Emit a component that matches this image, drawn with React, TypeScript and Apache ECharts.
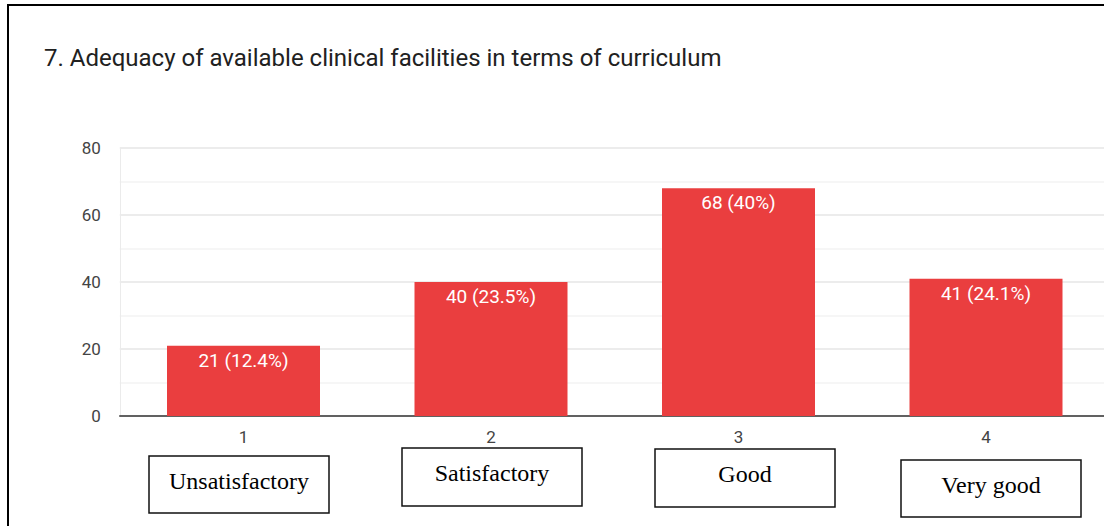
import React, { useEffect, useRef } from "react";
import * as echarts from "echarts";

const titleText = "7. Adequacy of available clinical facilities in terms of curriculum";
const categories = ["1", "2", "3", "4"];
const counts = [21, 40, 68, 41];
const percents = ["12.4%", "23.5%", "40%", "24.1%"];
const ratingNames = ["Unsatisfactory", "Satisfactory", "Good", "Very good"];
const yTicks = [0, 20, 40, 60, 80];

// box layout (left, top, width, height)
const boxLayout = [
  [149, 456, 180, 57],
  [402, 448, 180, 58],
  [655, 449, 180, 58],
  [901, 460, 180, 57],
];

const CHART_W = 1116;

export default function App() {
  const ref = useRef<HTMLDivElement>(null);
  useEffect(() => {
    if (!ref.current) return;
    const chart = echarts.init(ref.current, undefined, { renderer: "svg" });
    const graphics: any[] = [
      {
        type: "rect",
        shape: { x: 8, y: 5, width: 1300, height: 700 },
        style: { fill: "none", stroke: "#000", lineWidth: 2 },
        silent: true,
      },
    ];
    ratingNames.forEach((name, i) => {
      const [l, t, w, h] = boxLayout[i];
      graphics.push({
        type: "rect",
        shape: { x: l, y: t, width: w, height: h },
        style: { fill: "#fff", stroke: "#111", lineWidth: 1.5 },
        silent: true,
      });
      graphics.push({
        type: "text",
        x: l + w / 2,
        y: t + h / 2 - 4,
        style: {
          text: name,
          fill: "#000",
          font: '24px "Liberation Serif", "Times New Roman", serif',
          align: "center",
          verticalAlign: "middle",
        },
        silent: true,
      });
    });
    chart.setOption({
      animation: false,
      backgroundColor: "#fff",
      textStyle: { fontFamily: "Roboto" },
      title: {
        text: titleText,
        left: 39,
        top: 41,
        textStyle: { fontFamily: "Roboto", fontSize: 24, fontWeight: "normal", color: "#212121" },
      },
      grid: { left: 119.75, right: CHART_W - 1109.75, top: 148, bottom: 110, containLabel: false },
      xAxis: {
        type: "category",
        data: categories,
        axisLine: { show: true, lineStyle: { color: "#333", width: 1.5 } },
        axisTick: { show: false },
        axisLabel: { color: "#444", fontSize: 17, margin: 12, fontFamily: "Roboto" },
        splitLine: { show: false },
      },
      yAxis: {
        type: "value",
        min: yTicks[0],
        max: yTicks[yTicks.length - 1],
        interval: 20,
        axisLine: { show: true, lineStyle: { color: "#ebebeb", width: 1 } },
        axisTick: { show: false },
        axisLabel: { color: "#444", fontSize: 17, margin: 19, fontFamily: "Roboto" },
        splitLine: { show: true, lineStyle: { color: "#e6e6e6", width: 1.5 } },
        minorTick: { show: false, splitNumber: 2 },
        minorSplitLine: { show: true, lineStyle: { color: "#f3f3f3", width: 1.5 } },
      },
      series: [
        {
          type: "bar",
          data: counts,
          barWidth: 153,
          itemStyle: { color: "#ea3e3f" },
          label: {
            show: true,
            position: "insideTop",
            distance: 5,
            color: "#fff",
            fontSize: 19,
            fontFamily: "Roboto",
            formatter: (p: any) => `${p.value} (${percents[p.dataIndex]})`,
          },
        },
      ],
      graphic: graphics,
    });
    return () => chart.dispose();
  }, []);
  return (
    <div style={{ position: "fixed", left: 0, top: 0, width: 1104, height: 526, overflow: "hidden" }}>
      <div ref={ref} style={{ width: CHART_W, height: 526 }} />
    </div>
  );
}
